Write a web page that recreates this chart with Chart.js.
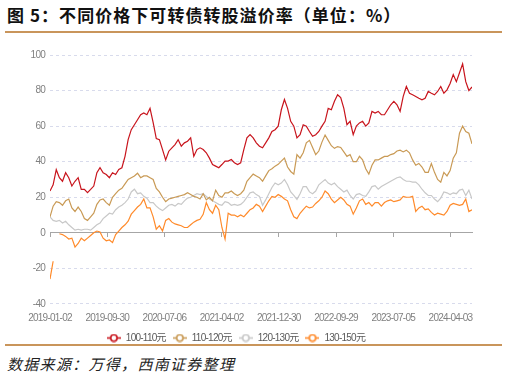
<!DOCTYPE html>
<html>
<head>
<meta charset="utf-8">
<script src="https://cdn.jsdelivr.net/npm/chart.js@4.4.1/dist/chart.umd.min.js"></script>
<style>
  body { margin: 0; background: #fff; }
  #page { position: relative; width: 507px; height: 378px; overflow: hidden; }
  #title { position: absolute; left: 7px; top: 2px; font: bold 17px "Noto Sans CJK SC", sans-serif; letter-spacing: 1.05px; color: #111; white-space: nowrap; }
  .sep { position: absolute; left: 5px; width: 497px; height: 2px; background: #c9955b; z-index: 2; }
  #wrap { position: absolute; left: 0; top: 36px; width: 507px; height: 317px; }
  #foot { position: absolute; left: 7px; top: 353px; font: italic 15px "Noto Sans CJK SC", sans-serif; letter-spacing: 1.3px; color: #222; white-space: nowrap; }
</style>
</head>
<body>
<div id="page">
  <div id="title">图 5：不同价格下可转债转股溢价率（单位：%）</div>
  <div class="sep" style="top:31px"></div>
  <div id="wrap"><canvas id="chartCanvas"></canvas></div>
  <div class="sep" style="top:344px"></div>
  <div id="foot">数据来源：万得，西南证券整理</div>
</div>
<script>
// one sample every 10 trading days, starting 2019-01-02
const STEP = 10;
const LAST_DAY = 1350;

const tickDays = [0, 183, 366, 549, 732, 915, 1098, 1281];
const tickLabels = ['2019-01-02', '2019-09-30', '2020-07-06', '2021-04-02',
                    '2021-12-30', '2022-09-29', '2023-07-05', '2024-04-03'];

const seriesNames = ['100-110元', '110-120元', '120-130元', '130-150元'];
const seriesColors = ['#c8141c', '#c99a55', '#c8c8c8', '#ff8a2a'];

const p100_110 = [
  23.5, 27, 35.5, 31, 29, 33.8, 31, 26.3, 29, 31, 24.4, 24.4, 22.6, 24.4, 26.3, 33.8, 36.6, 33.8, 32.8, 31,
  33.8, 32.8, 35.6, 36.6, 43, 52.4, 58, 60.8, 63.6, 66.4, 67.4, 66.4, 70, 62, 53, 52.4, 46.8, 41, 45.9, 47.8,
  49.6, 52.4, 48.7, 50.6, 51.5, 53.4, 43, 46.8, 47.8, 46.8, 45, 42, 38.4, 37.5, 36.6, 38.4, 40.3, 40.3, 41.2, 39.4,
  38.4, 39.4, 46.8, 53.4, 55.2, 53.4, 50.6, 48.7, 47.8, 50.6, 53.4, 57, 58, 60, 69.2, 75, 70, 62.7, 60, 53.4,
  55.2, 60.8, 60, 57, 54.3, 55.2, 57, 60, 62.7, 70, 69.2, 74, 77.6, 76, 70, 60.8, 62.7, 55.2, 60, 61.8,
  62.7, 60, 61.8, 68.3, 67.4, 68.3, 66.4, 66.4, 69.2, 72, 73.9, 72, 68.3, 76.7, 82.3, 78.5, 77.6, 76.7, 75.7, 74.8,
  75.7, 79.5, 78.5, 77.6, 79.5, 82.3, 78.5, 80.4, 84, 89, 85, 90, 95, 85, 80, 82
];
const p110_120 = [
  9, 15, 17.5, 17, 15.5, 18, 19, 14, 12, 14.5, 12, 8, 7, 9, 11, 16, 18.5, 19, 17, 15.5,
  20, 22, 24, 25, 27.5, 30, 31, 32, 33.5, 31, 32, 32, 31, 30, 25, 23, 20, 17.5, 19, 19.5,
  20, 20.5, 21, 21.5, 22.5, 21.5, 20.5, 20, 19, 22, 18.5, 20, 18, 24, 21, 20, 22.5, 22.5, 23.5, 22,
  21, 22, 24, 29, 31, 33, 32, 31, 29, 32, 35, 36, 37.5, 38.5, 40.3, 42, 37, 34.5, 33, 44,
  42, 45, 50.6, 52, 48, 44, 46, 51, 55, 52, 49, 47.5, 48.5, 48, 45.5, 43, 44, 40, 40, 43,
  41, 36, 33, 38, 41, 41, 42, 43, 43, 44, 44.5, 46, 46.5, 45.5, 46.5, 45, 41, 38, 39, 37,
  34, 34, 39, 34, 30, 28.5, 34, 32, 35, 42, 45, 56, 60, 57, 56, 50
];
const p120_130 = [
  9, 7, 6.5, 7, 5.5, 6.5, 4.5, 3, 1.5, 2, 1.5, 2, 2, 1.5, 3, 4.5, 5.5, 8, 9.5, 11,
  10.5, 13, 14.5, 15.5, 17, 19, 23, 24.5, 22, 22.5, 20.5, 19.5, 17, 17, 15, 13.5, 12.5, 14, 15.5, 16,
  15, 16.5, 16, 18, 19.5, 20, 21, 22, 21.5, 22, 20.5, 19, 18, 17, 16, 15.5, 17.5, 17, 15.5, 16,
  15.5, 16, 17.5, 20, 22.5, 23, 21.5, 20.5, 15.5, 18.5, 22, 25.5, 28, 27, 28, 30, 27, 23, 21, 18.8,
  22, 26, 26, 23, 22, 23.5, 27, 28.5, 30, 28, 27, 28, 26, 24.5, 23, 24, 21, 19, 21.5, 22,
  21, 20.5, 23, 26, 26.5, 24.5, 26, 27, 28, 29, 30, 31, 31.5, 30, 29, 29, 28.5, 28.5, 27, 24.5,
  22.5, 21, 21, 19, 17.5, 19.5, 23, 22.5, 21.5, 22.5, 22, 24, 24.5, 21, 24, 19
];
const p130_150 = [
  -26, -16, null, -0.5, -1, -2, -3.5, -3, -8, -6, -3, -4.5, -3, -1.5, 0, 1, 0.5, -3, -4.5, -4,
  -5.5, -1, 1, 3, 4.5, 6.5, 10.5, 12.5, 14.5, 16, 19, 14, 14, 9, 2, 4, 1, 7, 8, 6,
  5, 4.5, 4, 3, 3, 4.5, 6, 7, 7.6, 10.4, 17, 13, 11, 15.5, 13, 3, -3.5, 11, 10, 10,
  9, 10, 9, 11, 13, 14, 16, 15, 12, 15, 18, 20.5, 20, 21.5, 20.5, 19, 18, 13, 9, 8,
  11, 13, 15, 14, 14.5, 16.5, 18, 20, 23.5, 22, 19, 17, 18.5, 20, 18.5, 16, 15, 10.5, 14, 18,
  19, 16, 17, 15, 17, 17, 15, 17, 18, 18.5, 17.5, 18, 18.5, 20.5, 20, 20, 20.5, 12, 14, 15,
  13, 13.5, 11.5, 10, 11, 10.5, 10, 12, 15.5, 16.5, 16, 15.5, 16, 19, 12, 13
];
const allSeries = [p100_110, p110_120, p120_130, p130_150];

const yTicks = [-40, -20, 0, 20, 40, 60, 80, 100];
const Y_MIN = -42, Y_MAX = 100;   // a little room under the -40 line

const tickFont = { family: "'Liberation Sans', 'Noto Sans CJK SC', sans-serif", size: 10 };

// legend marker: short line with a hollow circle on it
function makeMarker(color) {
    const c = document.createElement('canvas');
    c.width = 14;
    c.height = 9;
    const g = c.getContext('2d');
    g.strokeStyle = color;
    g.lineWidth = 1.6;
    g.beginPath();
    g.moveTo(0, 4.5);
    g.lineTo(14, 4.5);
    g.stroke();
    g.beginPath();
    g.arc(7, 4.5, 3.2, 0, Math.PI * 2);
    g.fillStyle = '#fff';
    g.fill();
    g.stroke();
    return c;
}

// the reference uses a narrow face for its small text
const narrowText = {
    id: 'narrowText',
    beforeUpdate: (c) => { c.ctx.letterSpacing = '-0.75px'; },
    beforeDraw: (c) => { c.ctx.letterSpacing = '-0.75px'; }
};

const datasets = allSeries.map((vals, k) => ({
    label: seriesNames[k],
    data: vals.map((v, i) => ({ x: i * STEP, y: v })),
    borderColor: seriesColors[k],
    backgroundColor: seriesColors[k],
    borderWidth: 1.2,
    pointRadius: 0,
    pointStyle: makeMarker(seriesColors[k]),   // only used by the legend
    tension: 0,
    spanGaps: false
}));

const ctx = document.getElementById('chartCanvas').getContext('2d');

let chart = new Chart(ctx, {
    type: 'line',
    data: { datasets: datasets },
    plugins: [narrowText],
    options: {
        responsive: true,
        maintainAspectRatio: false,
        animation: false,
        layout: { padding: { top: 19, right: 35, left: 0, bottom: 0 } },
        plugins: {
            tooltip: { enabled: false },
            legend: {
                position: 'bottom',
                labels: {
                    usePointStyle: true,
                    pointStyleWidth: 14,
                    padding: 7,
                    color: '#595959',
                    font: tickFont
                }
            }
        },
        scales: {
            x: {
                type: 'linear',
                position: 'bottom',
                min: 0,
                max: LAST_DAY,
                grid: { display: false, drawTicks: false },
                border: { display: false },
                afterBuildTicks: (scale) => { scale.ticks = tickDays.map(v => ({ value: v })); },
                afterFit: (scale) => { scale.height = 18.5; },
                ticks: {
                    autoSkip: false,
                    maxRotation: 0,
                    padding: 4.5,
                    color: '#808080',
                    font: tickFont,
                    callback: (v) => tickLabels[tickDays.indexOf(v)]
                }
            },
            // the zero line with its tick marks
            x0: {
                type: 'linear',
                axis: 'x',
                position: { y: 0 },
                min: 0,
                max: LAST_DAY,
                afterBuildTicks: (scale) => { scale.ticks = tickDays.map(v => ({ value: v })); },
                grid: { drawOnChartArea: false, drawTicks: true, tickLength: 4, color: '#a6a6a6' },
                border: { display: true, color: '#a6a6a6', width: 1 },
                ticks: { display: false }
            },
            y: {
                min: Y_MIN,
                max: Y_MAX,
                afterBuildTicks: (scale) => { scale.ticks = yTicks.map(v => ({ value: v })); },
                afterFit: (scale) => { scale.width = 50; },
                grid: {
                    color: (c) => (c.tick && c.tick.value === 0) ? 'rgba(0,0,0,0)' : '#d8dbec',
                    drawTicks: false,
                    lineWidth: 1
                },
                border: { display: false, dash: [3, 3] },
                ticks: { autoSkip: false, padding: 5, color: '#808080', font: tickFont }
            }
        }
    }
});
</script>
</body>
</html>
